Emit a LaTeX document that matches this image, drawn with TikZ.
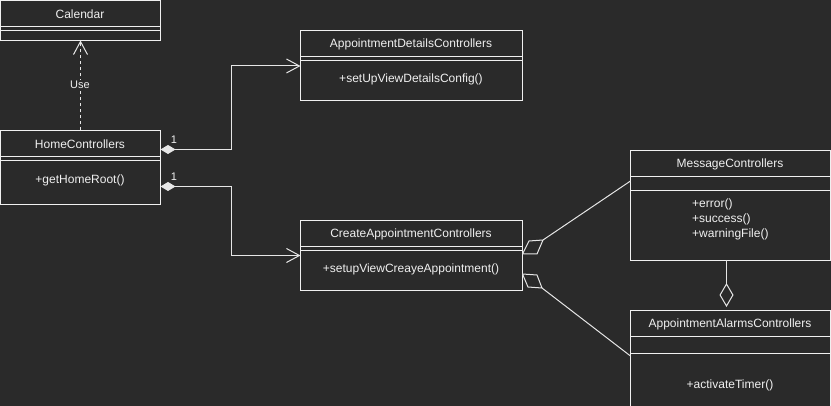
\documentclass[tikz,border=0pt]{standalone}
\usepackage{fontspec}
\setmainfont{Liberation Sans}
\usetikzlibrary{arrows.meta}
\definecolor{bg}{HTML}{2A2A2A}
\definecolor{ink}{HTML}{F0F0F0}
\definecolor{edge}{HTML}{E6E6E6}
\begin{document}
\begin{tikzpicture}[x=1pt,y=-1pt,
  cls/.style={draw=ink,line width=1pt,anchor=north west,inner sep=0pt,outer sep=0pt},
  lbl/.style={text=ink,font=\fontsize{12}{14}\selectfont,inner sep=0pt},
  mult/.style={text=ink!85,font=\fontsize{11}{13}\selectfont,inner sep=0pt},
  sep/.style={draw=ink,line width=1pt},
  conn/.style={draw=edge,line width=1pt},
  opentip/.style={-{Straight Barb[length=13pt,width=14pt,line width=1pt]}},
  compnav/.style={{Diamond[length=15pt,width=9pt,fill=edge]}-{Straight Barb[length=13pt,width=14pt,line width=1pt]}},
  agg/.style={-{Diamond[open,length=24pt,width=14pt,fill=bg]}},
]
\fill[bg] (0,0) rectangle (831,406);
\useasboundingbox (0,0) rectangle (831,406);

% class boxes
\node[cls,minimum width=160pt,minimum height=40pt] (cal) at (0.5,0.5) {};
\node[cls,minimum width=160pt,minimum height=74pt] (home) at (0.5,130.5) {};
\node[cls,minimum width=222pt,minimum height=70pt] (details) at (300.5,30.5) {};
\node[cls,minimum width=222pt,minimum height=70pt] (create) at (300.5,220.5) {};
\node[cls,minimum width=200pt,minimum height=110pt] (msg) at (630.5,150.5) {};
\node[cls,minimum width=200pt,minimum height=100pt] (alarm) at (630.5,310.5) {};

% compartment separators
\draw[sep] (cal.west |- 0,26.5) -- (cal.east |- 0,26.5);
\draw[sep] (cal.west |- 0,30.5) -- (cal.east |- 0,30.5);
\draw[sep] (home.west |- 0,156.5) -- (home.east |- 0,156.5);
\draw[sep] (home.west |- 0,160.5) -- (home.east |- 0,160.5);
\draw[sep] (details.west |- 0,56.5) -- (details.east |- 0,56.5);
\draw[sep] (details.west |- 0,60.5) -- (details.east |- 0,60.5);
\draw[sep] (create.west |- 0,246.5) -- (create.east |- 0,246.5);
\draw[sep] (create.west |- 0,250.5) -- (create.east |- 0,250.5);
\draw[sep] (msg.west |- 0,176.5) -- (msg.east |- 0,176.5);
\draw[sep] (msg.west |- 0,190.5) -- (msg.east |- 0,190.5);
\draw[sep] (alarm.west |- 0,336.5) -- (alarm.east |- 0,336.5);
\draw[sep] (alarm.west |- 0,353.5) -- (alarm.east |- 0,353.5);

% class names and operations
\node[lbl] (calname) at (80,14) {Calendar};
\node[lbl] (homename) at (80,144) {HomeControllers};
\node[lbl] (homeop) at (80,180) {+getHomeRoot()};
\node[lbl] (detname) at (411,44.5) {AppointmentDetailsControllers};
\node[lbl] (detop) at (411,79.5) {+setUpViewDetailsConfig()};
\node[lbl] (crname) at (411,234) {CreateAppointmentControllers};
\node[lbl] (crop) at (411,269) {+setupViewCreayeAppointment()};
\node[lbl] (msgname) at (730,164) {MessageControllers};
\node[lbl,anchor=west] (msgop1) at (692,204) {+error()};
\node[lbl,anchor=west] (msgop2) at (692,219) {+success()};
\node[lbl,anchor=west] (msgop3) at (692,234) {+warningFile()};
\node[lbl] (alname) at (730,324) {AppointmentAlarmsControllers};
\node[lbl] (alop) at (730,385) {+activateTimer()};

% dependency: HomeControllers uses Calendar
\draw[conn,opentip,dash pattern=on 3pt off 3pt] (home.north) -- (cal.south);
\node[lbl,fill=bg,inner sep=1.5pt,font=\fontsize{11}{13}\selectfont] (uselbl) at (80,85) {Use};

% navigable compositions from HomeControllers
\draw[conn,compnav] ([yshift=18pt]home.east) -| (231,66) -- (details.west |- 0,66);
\draw[conn,compnav] ([yshift=-19pt]home.east) -| (231,255.5) -- (create.west |- 0,255.5);
\node[mult] (m1) at (174,140) {1};
\node[mult] (m2) at (174,177) {1};

% aggregations from CreateAppointmentControllers (skewed diamonds)
\coordinate (d1) at (543,240);
\coordinate (d2) at (542,288);
\draw[conn,fill=bg,line join=round] (create.east |- 0,254) -- (529,241) -- (d1) -- (537,254) -- cycle;
\draw[conn,fill=bg,line join=round] (create.east |- 0,274) -- (537,275) -- (d2) -- (528,287) -- cycle;
\draw[conn] (d1) -- (msg.west |- 0,181);
\draw[conn] (d2) -- (alarm.west |- 0,356);

% aggregation between MessageControllers and AppointmentAlarmsControllers
\coordinate (d3) at (726.5,307);
\draw[conn,agg] (msg.south -| d3) -- (d3);
\end{tikzpicture}
\end{document}
